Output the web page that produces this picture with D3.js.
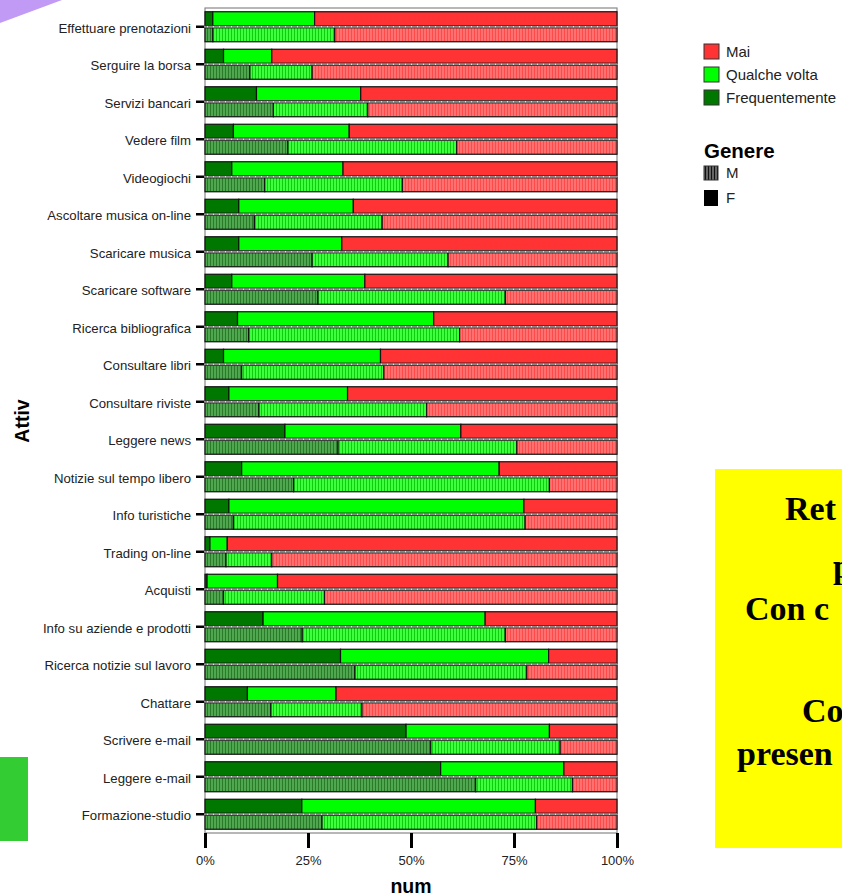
<!DOCTYPE html>
<html><head><meta charset="utf-8">
<script src="https://cdn.jsdelivr.net/npm/d3@7"></script>
<style>body{margin:0;background:#fff;overflow:hidden}svg{display:block}</style>
</head><body>
<script>
const categories = ["Effettuare prenotazioni","Serguire la borsa","Servizi bancari","Vedere film","Videogiochi","Ascoltare musica on-line","Scaricare musica","Scaricare software","Ricerca bibliografica","Consultare libri","Consultare riviste","Leggere news","Notizie sul tempo libero","Info turistiche","Trading on-line","Acquisti","Info su aziende e prodotti","Ricerca notizie sul lavoro","Chattare","Scrivere e-mail","Leggere e-mail","Formazione-studio"];
const levels = ["Frequentemente","Qualche volta","Mai"];
const legendOrder = ["Mai","Qualche volta","Frequentemente"];
const genders = ["F","M"];
// F (solid bars, upper) percentages
const F_freq = [1.9,4.5,12.5,6.9,6.5,8.2,8.2,6.5,7.9,4.5,5.8,19.4,8.9,5.8,1.2,0.5,14.1,32.9,10.3,48.8,57.2,23.5];
const F_qual = [24.7,11.7,25.3,28.1,27.0,27.8,25.0,32.3,47.6,38.1,28.8,42.7,62.5,71.6,4.2,17.1,53.9,50.5,21.5,34.8,29.9,56.7];
const F_mai  = [73.4,83.8,62.2,65.0,66.5,64.0,66.8,61.2,44.5,57.4,65.4,37.9,28.6,22.6,94.6,82.4,32.0,16.6,68.2,16.4,12.9,19.8];
// M (hatched bars, lower) percentages
const M_freq = [1.9,10.9,16.6,20.1,14.5,12.0,26.0,27.4,10.6,8.9,13.1,32.3,21.5,6.9,5.1,4.5,23.6,36.4,16.0,54.8,65.7,28.4];
const M_qual = [29.6,15.1,22.9,41.0,33.4,31.0,33.0,45.5,51.2,34.5,40.7,43.4,62.1,70.8,11.1,24.5,49.3,41.7,22.1,31.4,23.5,52.1];
const M_mai  = [68.5,74.0,60.5,38.9,52.1,57.0,41.0,27.1,38.2,56.6,46.2,24.3,16.4,22.3,83.8,71.0,27.1,21.9,61.9,13.8,10.8,19.5];
const xTicks = [0,0.25,0.5,0.75,1];
const xTickLabels = ["0%","25%","50%","75%","100%"];

const W=842,H=896;
const svg=d3.select("body").append("svg").attr("width",W).attr("height",H);
const defs=svg.append("defs");

// decorative shapes
svg.append("path").attr("d","M0,0 L62,0 L0,23 Z").attr("fill","#c09af5");
svg.append("rect").attr("x",0).attr("y",757).attr("width",28).attr("height",84).attr("fill","#33cc33");

const solid={ "Frequentemente":"#007800","Qualche volta":"#00ff00","Mai":"#ff3333"};
const hatchBase={ "Frequentemente":"#4fa84f","Qualche volta":"#3dff3d","Mai":"#ff7070"};
const hatchLine={ "Frequentemente":"#2a7a2a","Qualche volta":"#0fcc0f","Mai":"#ff4a4a"};
levels.forEach((l,i)=>{
  const p=defs.append("pattern").attr("id","h"+i).attr("patternUnits","userSpaceOnUse").attr("width",3).attr("height",6);
  p.append("rect").attr("width",3).attr("height",6).attr("fill",hatchBase[l]);
  p.append("rect").attr("x",0).attr("width",1).attr("height",6).attr("fill",hatchLine[l]);
});
const pg=defs.append("pattern").attr("id","hg").attr("patternUnits","userSpaceOnUse").attr("width",3).attr("height",6);
pg.append("rect").attr("width",3).attr("height",6).attr("fill","#666");
pg.append("rect").attr("width",1).attr("height",6).attr("fill","#111");

const x=d3.scaleLinear().domain([0,1]).range([205,617]);
const y=d3.scaleBand().domain(categories).range([8,833]).padding(0);

// panel
svg.append("rect").attr("x",x(0)).attr("y",8).attr("width",x(1)-x(0)).attr("height",825)
  .attr("fill","#fff").attr("stroke","#888").attr("stroke-width",1.2);

const vals={F:[F_freq,F_qual,F_mai],M:[M_freq,M_qual,M_mai]};
const rows=[];
categories.forEach((c,i)=>{
  genders.forEach(g=>{
    const v=vals[g].map(a=>a[i]); const tot=d3.sum(v);
    let cum=0;
    v.forEach((val,k)=>{ rows.push({c,g,k,x0:cum/tot,x1:(cum+val)/tot}); cum+=val; });
  });
});
const cy=c=>y(c)+y.bandwidth()/2;
svg.append("g").selectAll("rect").data(rows).join("rect")
  .attr("x",d=>x(d.x0)).attr("width",d=>x(d.x1)-x(d.x0))
  .attr("y",d=>d.g==="F"?cy(d.c)-15:cy(d.c)+1).attr("height",14)
  .attr("fill",d=>d.g==="F"?solid[levels[d.k]]:`url(#h${d.k})`)
  .attr("stroke","#111").attr("stroke-width",1.2);

// separators between F and M
const sep=svg.append("g");
categories.forEach(c=>{
  sep.append("line").attr("x1",x(0)).attr("x2",x(1)).attr("y1",cy(c)).attr("y2",cy(c)).attr("stroke","#8a8a8a").attr("stroke-width",2);
  sep.append("line").attr("x1",x(0)+2).attr("x2",x(1)-6).attr("y1",cy(c)).attr("y2",cy(c)).attr("stroke","#fff").attr("stroke-width",1).attr("stroke-dasharray","1,5");
});

// axes
const ax=svg.append("g").attr("transform",`translate(204,0)`).call(d3.axisLeft(y).tickSize(8).tickPadding(5));
ax.select(".domain").remove();
ax.selectAll(".tick line").attr("stroke","#000").attr("stroke-width",2.5);
ax.selectAll(".tick text").attr("font-family","Liberation Sans, Arial, sans-serif").attr("font-size",13.2).attr("fill","#222").attr("dy","0.45em");

const bx=svg.append("g").attr("transform",`translate(0,833)`).call(d3.axisBottom(x).tickValues(xTicks).tickFormat((d,i)=>xTickLabels[i]).tickSize(15).tickPadding(8));
bx.select(".domain").remove();
bx.selectAll(".tick line").attr("stroke","#000").attr("stroke-width",3);
bx.selectAll(".tick text").attr("font-family","Liberation Sans, Arial, sans-serif").attr("font-size",13).attr("fill","#222");

svg.append("text").attr("x",411).attr("y",893).attr("text-anchor","middle")
  .attr("font-family","Liberation Sans, Arial, sans-serif").attr("font-weight","bold").attr("font-size",19.5).text("num");
svg.append("text").attr("transform","translate(29,421) rotate(-90)").attr("text-anchor","middle")
  .attr("font-family","Liberation Sans, Arial, sans-serif").attr("font-weight","bold").attr("font-size",19.5).text("Attiv");

// legend
const lg=svg.append("g").attr("font-family","Liberation Sans, Arial, sans-serif");
legendOrder.forEach((l,i)=>{
  const yy=44+i*23;
  lg.append("rect").attr("x",704).attr("y",yy).attr("width",15).attr("height",15).attr("fill",solid[l]).attr("stroke","#333").attr("stroke-width",1);
  lg.append("text").attr("x",726).attr("y",yy+12.5).attr("font-size",15).attr("fill","#222").text(l);
});
lg.append("text").attr("x",704).attr("y",158).attr("font-size",20.5).attr("font-weight","bold").text("Genere");
lg.append("rect").attr("x",704).attr("y",166).attr("width",14).attr("height",14).attr("fill","url(#hg)").attr("stroke","#333");
lg.append("text").attr("x",726).attr("y",178).attr("font-size",15).attr("fill","#222").text("M");
lg.append("rect").attr("x",704).attr("y",190).attr("width",14).attr("height",16).attr("fill","#000");
lg.append("text").attr("x",726).attr("y",203).attr("font-size",15).attr("fill","#222").text("F");

// yellow text box (cut by window edge, as in the reference)
svg.append("rect").attr("x",715).attr("y",469).attr("width",140).attr("height",379).attr("fill","#ffff00");
const tb=svg.append("g").attr("font-family","Liberation Serif, Times New Roman, serif").attr("font-weight","bold").attr("font-size",34).attr("fill","#000");
[["Ret",785,520],["p",833,578],["Con c",745,620],["Co",802,722],["presen",737,765]].forEach(t=>{
  tb.append("text").attr("x",t[1]).attr("y",t[2]).text(t[0]);
});
</script>
</body></html>
